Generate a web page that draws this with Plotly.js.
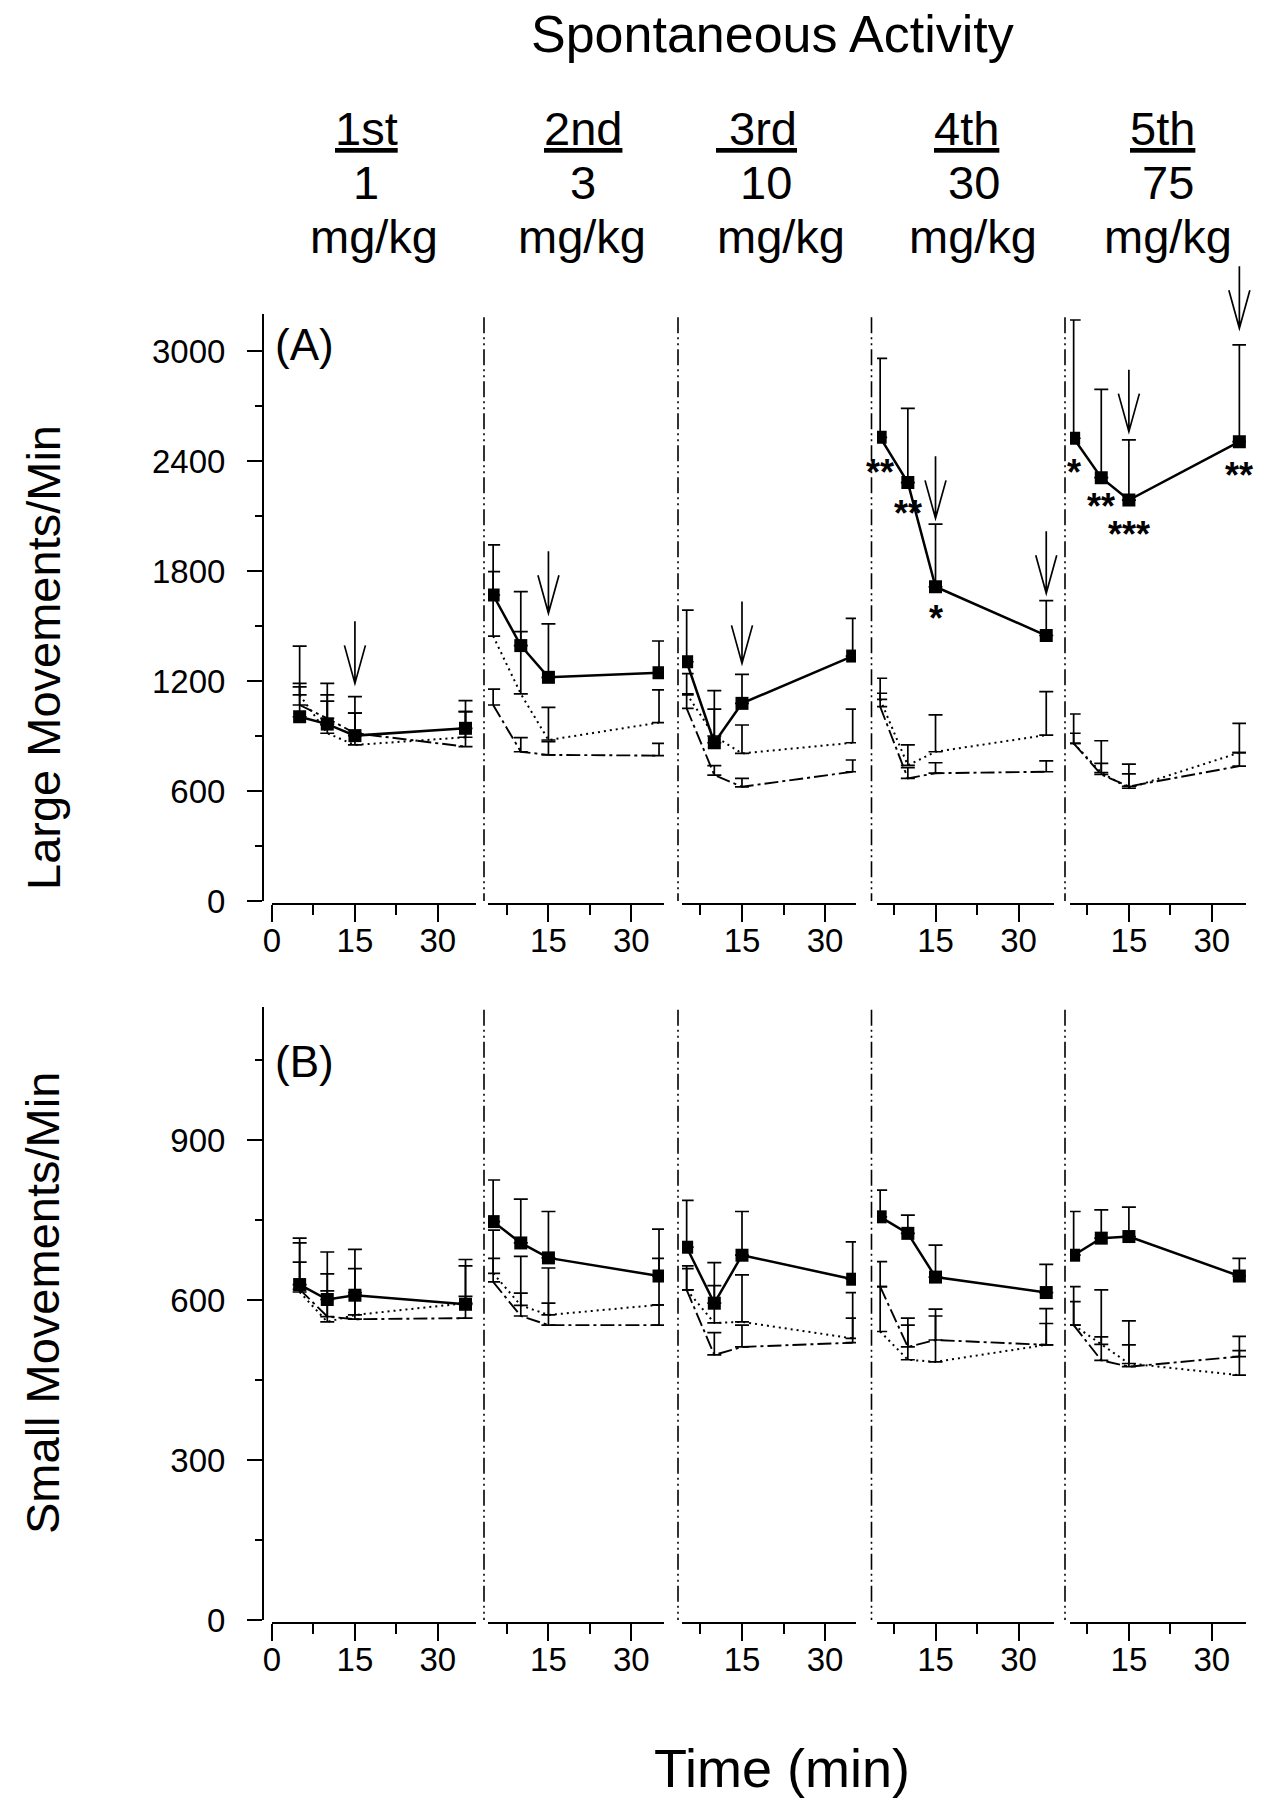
<!DOCTYPE html>
<html><head><meta charset="utf-8">
<script src="https://cdn.plot.ly/plotly-3.0.1.min.js"></script>
<style>html,body{margin:0;padding:0;background:#fff}</style>
</head><body><div id="chart" style="width:1269px;height:1800px"></div>
<script>
// ---------------- DATA ----------------
const times = [5, 10, 15, 35];
const panelLabels = ['1st', '2nd', '\u00a03rd', '4th', '5th'];
const doses = ['1', '3', '10', '30', '75'];
const doseUnit = 'mg/kg';
const xTickLabelsFirst = ['0', '15', '30'];
const xTickLabelsOther = ['15', '30'];
const yTicksLarge = ['0', '600', '1200', '1800', '2400', '3000'];
const yTicksSmall = ['0', '300', '600', '900'];

// (A) Large movements / min  (one row per dose panel)
const largeDrug    = [[1005, 965, 902, 942], [1669, 1393, 1220, 1245], [1305, 863, 1078, 1336], [2529, 2282, 1714, 1448], [2524, 2309, 2187, 2505]];
const largeDrugErr = [[385, 222, 213, 151], [273, 294, 291, 173], [282, 284, 158, 206], [431, 405, 342, 190], [645, 482, 328, 528]];
const largeDot     = [[1124, 915, 851, 893], [1445, 1130, 878, 973], [1130, 900, 805, 863], [1100, 740, 814, 905], [860, 700, 615, 809]];
const largeDotErr  = [[44, 175, 174, 140], [351, 339, 178, 178], [110, 146, 155, 183], [115, 111, 201, 237], [160, 174, 132, 160]];
const largeDash    = [[1069, 996, 915, 842], [1069, 814, 797, 793], [1051, 687, 623, 705], [1060, 669, 697, 705], [860, 690, 625, 736]];
const largeDashErr = [[118, 128, 110, 191], [87, 77, 72, 67], [73, 51, 46, 64], [73, 58, 57, 59], [55, 61, 68, 73]];

// (B) Small movements / min
const smallDrug    = [[629, 601, 609, 592], [747, 707, 679, 645], [699, 594, 684, 639], [756, 725, 643, 614], [684, 716, 719, 645]];
const smallDrugErr = [[87, 89, 86, 84], [78, 82, 87, 88], [88, 76, 82, 70], [50, 34, 60, 53], [82, 53, 55, 33]];
const smallDot     = [[615, 559, 572, 594], [650, 590, 572, 591], [619, 557, 559, 528], [541, 488, 484, 516], [553, 517, 481, 459]];
const smallDotErr  = [[92, 90, 87, 70], [81, 92, 88, 87], [45, 70, 88, 86], [84, 78, 99, 68], [72, 102, 80, 46]];
const smallDash    = [[620, 569, 564, 566], [634, 570, 553, 553], [619, 497, 512, 520], [625, 512, 525, 516], [553, 487, 475, 494]];
const smallDashErr = [[51, 48, 50, 41], [44, 43, 41, 38], [40, 42, 41, 46], [47, 41, 45, 40], [44, 44, 41, 38]];

// arrows (panel A): panel index (0-based), time, value at arrow tip
const arrowPanel = [0, 1, 2, 3, 3, 4, 4];
const arrowTime  = [15, 15, 15, 15, 35, 15, 35];
const arrowTip   = [1187, 1569, 1296, 2087, 1678, 2560, 3124];

// significance marks (panel A)
const starPanel = [3, 3, 3, 4, 4, 4, 4];
const starTime  = [5, 10, 15, 5, 10, 15, 35];
const starText  = ['**', '**', '*', '*', '**', '***', '**'];
const starValue = [2393, 2169, 1597, 2393, 2205, 2056, 2374];

// ---------------- LAYOUT GEOMETRY (pixels) ----------------
const W = 1269, H = 1800;
const FONT = 'Liberation Sans, Arial, Helvetica, sans-serif';
const panelsPx = [
  {d0: 272, d1: 476, r0: 0, r1: 36.9},
  {d0: 488, d1: 664, r0: 4.07, r1: 35.9},
  {d0: 682, d1: 856, r0: 4.16, r1: 35.6},
  {d0: 877, d1: 1054, r0: 4.43, r1: 36.4},
  {d0: 1070, d1: 1246, r0: 4.34, r1: 36.2}
];
const rowA = {top: 314.3, bot: 901, max: 3200, xline: 903.5};
const rowB = {top: 1006.7, bot: 1620, max: 1150, xline: 1623};
const yAxisPx = 263;
const dividerPx = [484, 678, 871.5, 1065];

const px = v => v / W;
const py = v => 1 - v / H;

function xToPx(p, t) {
  const P = panelsPx[p];
  return P.d0 + (t - P.r0) / (P.r1 - P.r0) * (P.d1 - P.d0);
}
function yToPxA(v) { return rowA.bot - v / rowA.max * (rowA.bot - rowA.top); }

// ---------------- TRACES ----------------
const traces = [];
function addRow(drug, drugErr, dot, dotErr, dash, dashErr, axOffset, yName) {
  for (let p = 0; p < 5; p++) {
    const xa = 'x' + (p + 1 + axOffset === 1 ? '' : (p + 1 + axOffset));
    const common = {x: times, xaxis: xa, yaxis: yName, type: 'scatter', showlegend: false, hoverinfo: 'skip'};
    const eb = arr => ({type: 'data', symmetric: false, array: arr, arrayminus: arr.map(() => 0),
                        color: '#000', thickness: 1.7, width: 7});
    traces.push(Object.assign({}, common, {y: dash[p], mode: 'lines',
      line: {color: '#000', width: 1.9, dash: '14px,4px,3px,4px'}, error_y: eb(dashErr[p])}));
    traces.push(Object.assign({}, common, {y: dot[p], mode: 'lines',
      line: {color: '#000', width: 2, dash: '2px,4px'}, error_y: eb(dotErr[p])}));
    traces.push(Object.assign({}, common, {y: drug[p], mode: 'lines+markers',
      line: {color: '#000', width: 2.5}, marker: {symbol: 'square', size: 13, color: '#000'},
      error_y: eb(drugErr[p])}));
  }
}
addRow(largeDrug, largeDrugErr, largeDot, largeDotErr, largeDash, largeDashErr, 0, 'y');
addRow(smallDrug, smallDrugErr, smallDot, smallDotErr, smallDash, smallDashErr, 5, 'y2');

// ---------------- AXES ----------------
const layout = {
  width: W, height: H, margin: {l: 0, r: 0, t: 0, b: 0},
  paper_bgcolor: '#fff', plot_bgcolor: 'rgba(0,0,0,0)',
  font: {family: FONT, color: '#000', size: 33},
  showlegend: false,
  annotations: [], shapes: []
};

function xAxis(p, row) {
  const P = panelsPx[p];
  const first = p === 0;
  return {
    domain: [px(P.d0), px(P.d1)], range: [P.r0, P.r1],
    anchor: 'free', position: py(row.xline),
    showline: true, linewidth: 2.4, linecolor: '#000', mirror: false,
    showgrid: false, zeroline: false, fixedrange: true,
    ticks: 'outside', ticklen: 17, tickwidth: 2, tickcolor: '#000',
    tickmode: 'array',
    tickvals: first ? [0, 15, 30] : [15, 30],
    ticktext: first ? xTickLabelsFirst : xTickLabelsOther,
    tickfont: {family: FONT, size: 33, color: '#000'},
    ticklabelstandoff: -10,
    minor: {ticks: 'outside', tickmode: 'array', tickvals: [7.5, 22.5], ticklen: 10, tickwidth: 2, tickcolor: '#000', showgrid: false}
  };
}
for (let p = 0; p < 5; p++) {
  layout['xaxis' + (p === 0 ? '' : p + 1)] = xAxis(p, rowA);
  layout['xaxis' + (p + 6)] = xAxis(p, rowB);
}
function yAxis(row, labels, minorVals) {
  return {
    domain: [py(row.bot), py(row.top)], range: [0, row.max],
    anchor: 'free', position: px(yAxisPx), side: 'left',
    showline: true, linewidth: 2, linecolor: '#000',
    showgrid: false, zeroline: false, fixedrange: true,
    ticks: 'outside', ticklen: 15, tickwidth: 2, tickcolor: '#000',
    tickmode: 'array', tickvals: labels.map(Number), ticktext: labels,
    tickfont: {family: FONT, size: 33, color: '#000'},
    ticklabelstandoff: 15,
    minor: {ticks: 'outside', tickmode: 'array', tickvals: minorVals, ticklen: 7, tickwidth: 2, tickcolor: '#000', showgrid: false}
  };
}
layout.yaxis = yAxis(rowA, yTicksLarge, [300, 900, 1500, 2100, 2700]);
layout.yaxis2 = yAxis(rowB, yTicksSmall, [150, 450, 750, 1050]);

// ---------------- DIVIDERS ----------------
[rowA, rowB].forEach(row => {
  dividerPx.forEach(xp => {
    layout.shapes.push({type: 'line', xref: 'paper', yref: 'paper',
      x0: px(xp), x1: px(xp), y0: py(row.top + 3), y1: py(row.bot),
      line: {color: '#000', width: 1.6, dash: '16px,4px,2px,4px,2px,4px'}});
  });
});

// ---------------- ARROWS ----------------
for (let i = 0; i < arrowTime.length; i++) {
  const xp = xToPx(arrowPanel[i], arrowTime[i]);
  const tip = yToPxA(arrowTip[i]);
  const top = tip - 62, headTop = tip - 38, hw = 10.5;
  const path = `M${px(xp)},${py(top)} L${px(xp)},${py(tip)} M${px(xp - hw)},${py(headTop)} L${px(xp)},${py(tip)} L${px(xp + hw)},${py(headTop)}`;
  layout.shapes.push({type: 'path', xref: 'paper', yref: 'paper', path: path,
    line: {color: '#000', width: 1.7}});
}

// ---------------- TEXT ----------------
const ann = layout.annotations;
ann.push({text: 'Spontaneous Activity', x: px(772), y: py(34), xref: 'paper', yref: 'paper',
  showarrow: false, font: {family: FONT, size: 52}, xanchor: 'center', yanchor: 'middle'});
const labelX1 = [367, 583, 756, 966, 1162];
const labelX2 = [366, 583, 766, 974, 1168];
const labelX3 = [374, 582, 781, 973, 1168];
const labelY = [129, 182, 237];
for (let p = 0; p < 5; p++) {
  const lines = ['<u>' + panelLabels[p] + '</u>', doses[p], doseUnit];
  const xs = [labelX1[p], labelX2[p], labelX3[p]];
  lines.forEach((t, k) => ann.push({text: t, x: px(xs[k]), y: py(labelY[k]), xref: 'paper', yref: 'paper',
    showarrow: false, font: {family: FONT, size: 47}, xanchor: 'center', yanchor: 'middle'}));
}
ann.push({text: '(A)', x: px(304), y: py(344), xref: 'paper', yref: 'paper', showarrow: false,
  font: {family: FONT, size: 44}, xanchor: 'center', yanchor: 'middle'});
ann.push({text: '(B)', x: px(304), y: py(1061), xref: 'paper', yref: 'paper', showarrow: false,
  font: {family: FONT, size: 44}, xanchor: 'center', yanchor: 'middle'});
ann.push({text: 'Large Movements/Min', x: px(43), y: py(658), xref: 'paper', yref: 'paper', showarrow: false,
  textangle: -90, font: {family: FONT, size: 47}, xanchor: 'center', yanchor: 'middle'});
ann.push({text: 'Small Movements/Min', x: px(42), y: py(1303), xref: 'paper', yref: 'paper', showarrow: false,
  textangle: -90, font: {family: FONT, size: 47}, xanchor: 'center', yanchor: 'middle'});
ann.push({text: 'Time (min)', x: px(782), y: py(1768), xref: 'paper', yref: 'paper', showarrow: false,
  font: {family: FONT, size: 54}, xanchor: 'center', yanchor: 'middle'});
for (let i = 0; i < starTime.length; i++) {
  const xa = 'x' + (starPanel[i] === 0 ? '' : starPanel[i] + 1);
  ann.push({text: starText[i], x: starTime[i], y: starValue[i], xref: xa, yref: 'y', showarrow: false,
    font: {family: FONT, size: 36, weight: 'bold'}, xanchor: 'center', yanchor: 'middle', yshift: -10});
}

Plotly.newPlot('chart', traces, layout, {staticPlot: true, displayModeBar: false});
</script>
</body></html>
